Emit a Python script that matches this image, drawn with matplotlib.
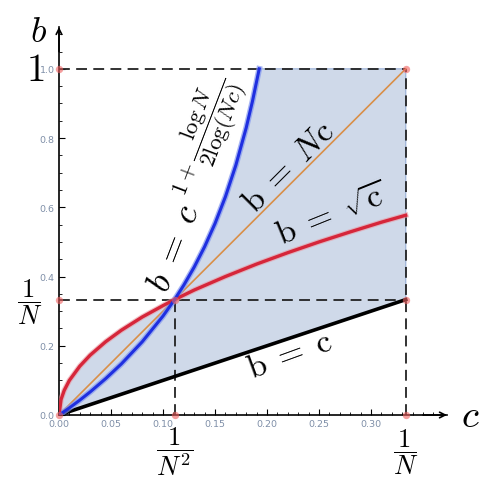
import matplotlib
matplotlib.use("Agg")
import matplotlib.pyplot as plt

plt.rcParams['mathtext.fontset'] = 'cm'

N = 3
inv_n = 1 / N
inv_n2 = 1 / N**2

# b = c (black) and b = Nc (orange) end points
c_line = [0.0, inv_n]
b_c = [0.0, inv_n]
b_nc = [0.0, 1.0]

# b = sqrt(c)
c_red = [0.0, 0.002, 0.005, 0.01, 0.02, 0.03, 0.045, 0.06, 0.08, 0.1, 0.1111,
         0.13, 0.16, 0.19, 0.22, 0.25, 0.28, 0.31, 0.3333]
b_red = [0.0, 0.045, 0.071, 0.1, 0.141, 0.173, 0.212, 0.245, 0.283, 0.316, 0.3333,
         0.361, 0.4, 0.436, 0.469, 0.5, 0.529, 0.557, 0.577]

# b = c^(1 + logN / (2 log(Nc)))
c_blue = [0.0, 0.001, 0.002, 0.005, 0.01, 0.02, 0.03, 0.045, 0.06, 0.08, 0.1, 0.1111,
          0.12, 0.13, 0.14, 0.15, 0.16, 0.17, 0.18, 0.186, 0.1925]
b_blue = [0.0, 0.0019, 0.0039, 0.01, 0.0206, 0.0429, 0.0667, 0.1054, 0.1477, 0.2115,
          0.2859, 0.3333, 0.3752, 0.4274, 0.4862, 0.5532, 0.6306, 0.7214, 0.830, 0.9064, 1.0]

# marked points
dot_c = [0, 0, 0, inv_n2, inv_n2, inv_n, inv_n, inv_n]
dot_b = [0, 1, inv_n, 0, inv_n, 0, inv_n, 1]

fig = plt.figure(figsize=(4.92, 4.89), dpi=100)
ax = fig.add_axes([0.1199, 0.1493, 0.7886, 0.7935])
ax.set_xlim(0, 0.373)
ax.set_ylim(0, 1.121)

# shaded region: below max(sqrt c, blue) capped at 1, above b = c
n_red = c_red.index(0.1111)
n_blue = c_blue.index(0.1111)
poly_c = c_red[:n_red + 1] + c_blue[n_blue + 1:] + [inv_n, inv_n]
poly_b = b_red[:n_red + 1] + b_blue[n_blue + 1:] + [1.0, inv_n]
ax.fill(poly_c, poly_b, facecolor='#cfd9e9', edgecolor='#9fb4d8', lw=0.9, zorder=1)

# dashed guides
dash = dict(color='#222222', lw=1.3, dashes=(6, 3.5), zorder=2)
ax.plot([0, inv_n], [1, 1], **dash)
ax.plot([0, inv_n], [inv_n, inv_n], **dash)
ax.plot([inv_n2, inv_n2], [0, inv_n], **dash)
ax.plot([inv_n, inv_n], [0, 1], **dash)

# curves
ax.plot(c_line, b_nc, color='#d98f48', lw=1.2, zorder=3)
ax.plot(c_line, b_c, color='black', lw=2.6, zorder=4)
ax.plot(c_red, b_red, color='#e89aa3', lw=4.0, alpha=0.6, zorder=4)
ax.plot(c_red, b_red, color='#d6263a', lw=2.4, zorder=5)
ax.plot(c_blue, b_blue, color='#8095f0', lw=4.2, alpha=0.7, zorder=4)
ax.plot(c_blue, b_blue, color='#1f2fe0', lw=2.2, zorder=5)

ax.scatter(dot_c, dot_b, s=28, color='#f06060', alpha=0.6, zorder=6,
           clip_on=False, linewidths=0)

# axes styling
for s in ['top', 'right']:
    ax.spines[s].set_visible(False)
for s in ['left', 'bottom']:
    ax.spines[s].set_linewidth(1.2)
ax.set_xticks([0, 0.05, 0.1, 0.15, 0.2, 0.25, 0.3])
ax.set_xticklabels(['0.00', '0.05', '0.10', '0.15', '0.20', '0.25', '0.30'])
ax.set_yticks([0, 0.2, 0.4, 0.6, 0.8, 1.0])
ax.set_yticklabels(['0.0', '0.2', '0.4', '0.6', '0.8', '1.0'])
ax.set_xticks([i * 0.01 for i in range(37)], minor=True)
ax.set_yticks([i * 0.05 for i in range(23)], minor=True)
ax.tick_params(which='major', direction='in', length=4, width=0.8,
               labelsize=6.8, labelcolor='#7f8fa8', pad=3)
ax.tick_params(which='minor', direction='in', length=2, width=0.6)

ax.annotate('', xy=(0, 1.121), xytext=(0, 1.05), annotation_clip=False,
            arrowprops=dict(arrowstyle='->', lw=1.2, color='black', shrinkA=0, shrinkB=0))
ax.annotate('', xy=(0.373, 0), xytext=(0.35, 0), annotation_clip=False,
            arrowprops=dict(arrowstyle='->', lw=1.2, color='black', shrinkA=0, shrinkB=0))

# big labels
big = dict(ha='center', va='center', clip_on=False, color='black', rotation_mode='anchor')
ax.text(-0.020, 1.11, '$b$', fontsize=26, **big)
ax.text(-0.023, 1.0, '$1$', fontsize=28, **big)
ax.text(-0.028, 0.329, r'$\dfrac{1}{N}$', fontsize=19, **big)
ax.text(inv_n2, -0.104, r'$\dfrac{1}{N^2}$', fontsize=19, **big)
ax.text(inv_n, -0.104, r'$\dfrac{1}{N}$', fontsize=19, **big)
ax.text(0.395, 0.0, '$c$', fontsize=28, **big)

ax.text(0.222, 0.176, r'$\mathrm{b}\;=\;\mathrm{c}$', fontsize=24, rotation=20, **big)
ax.text(0.221, 0.720, r'$\mathrm{b}\;=\;N\mathrm{c}$', fontsize=24, rotation=45, **big)
ax.text(0.263, 0.581, r'$\mathrm{b}\;=\;\sqrt{\mathrm{c}}$', fontsize=24, rotation=22, **big)
ax.text(0.1105, 0.485, r'$b\;=\;c$', fontsize=26, rotation=69, **big)
ax.text(0.1405, 0.805, r'$1+\dfrac{\log N}{2\log(Nc)}$', fontsize=16.5, rotation=69, **big)

fig.savefig('out.png', dpi=100)
